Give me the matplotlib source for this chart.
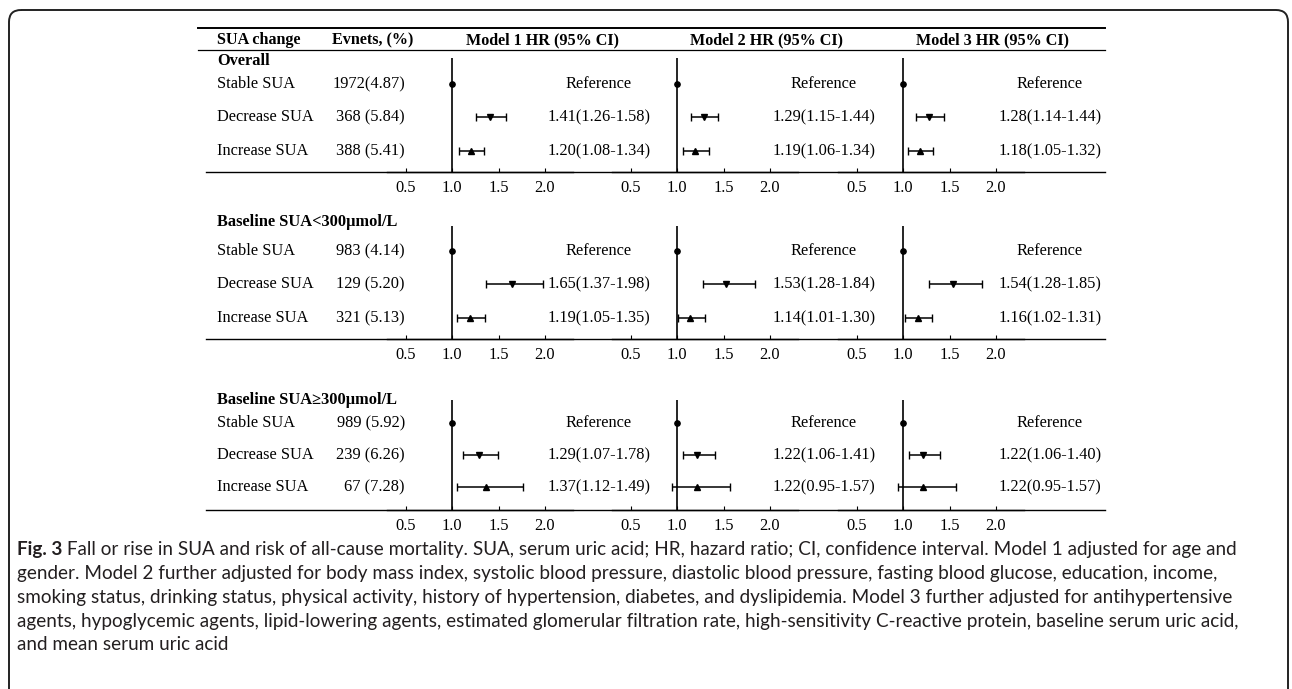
import matplotlib
matplotlib.use('Agg')
import matplotlib.pyplot as plt
from matplotlib.patches import FancyBboxPatch

# Table content
groups = ['Overall', 'Baseline SUA<300\u03bcmol/L', 'Baseline SUA\u2265300\u03bcmol/L']
rows = ['Stable SUA', 'Decrease SUA', 'Increase SUA']
events = [['1972(4.87)', '368 (5.84)', '388 (5.41)'],
          ['983 (4.14)', '129 (5.20)', '321 (5.13)'],
          ['989 (5.92)', '239 (6.26)', '67 (7.28)']]
models = ['Model 1 HR (95% CI)', 'Model 2 HR (95% CI)', 'Model 3 HR (95% CI)']

# printed HR text, [group][model] -> (decrease, increase)
hr_text = [[('1.41(1.26-1.58)', '1.20(1.08-1.34)'), ('1.29(1.15-1.44)', '1.19(1.06-1.34)'), ('1.28(1.14-1.44)', '1.18(1.05-1.32)')],
           [('1.65(1.37-1.98)', '1.19(1.05-1.35)'), ('1.53(1.28-1.84)', '1.14(1.01-1.30)'), ('1.54(1.28-1.85)', '1.16(1.02-1.31)')],
           [('1.29(1.07-1.78)', '1.37(1.12-1.49)'), ('1.22(1.06-1.41)', '1.22(0.95-1.57)'), ('1.22(1.06-1.40)', '1.22(0.95-1.57)')]]

# plotted points: [group][model] -> [decrease, increase]
hr = [[[1.41, 1.20], [1.29, 1.19], [1.28, 1.18]],
      [[1.65, 1.19], [1.53, 1.14], [1.54, 1.16]],
      [[1.29, 1.37], [1.22, 1.22], [1.22, 1.22]]]
lo = [[[1.26, 1.08], [1.15, 1.06], [1.14, 1.05]],
      [[1.37, 1.05], [1.28, 1.01], [1.28, 1.02]],
      [[1.12, 1.05], [1.06, 0.95], [1.06, 0.95]]]
hi = [[[1.58, 1.34], [1.44, 1.34], [1.44, 1.32]],
      [[1.98, 1.35], [1.84, 1.30], [1.85, 1.31]],
      [[1.49, 1.76], [1.41, 1.57], [1.40, 1.57]]]
ref_hr = 1.0
ticks = [0.5, 1.0, 1.5, 2.0]
tick_labels = ['0.5', '1.0', '1.5', '2.0']

caption_bold = 'Fig. 3'
caption = [
    ' Fall or rise in SUA and risk of all-cause mortality. SUA, serum uric acid; HR, hazard ratio; CI, confidence interval. Model 1 adjusted for age and',
    'gender. Model 2 further adjusted for body mass index, systolic blood pressure, diastolic blood pressure, fasting blood glucose, education, income,',
    'smoking status, drinking status, physical activity, history of hypertension, diabetes, and dyslipidemia. Model 3 further adjusted for antihypertensive',
    'agents, hypoglycemic agents, lipid-lowering agents, estimated glomerular filtration rate, high-sensitivity C-reactive protein, baseline serum uric acid,',
    'and mean serum uric acid',
]

# layout in pixels
W, H = 1292, 689
line_x = [452, 677, 903]      # x of HR = 1.0 for each model
px_per_unit = 93
title_y = [61, 222, 400]
row_y = [[84, 117, 151], [251, 284, 318], [423, 455, 487]]
axis_y = [172, 339, 510]
ref_top = [58, 226, 400]
tab_l, tab_r = 198, 1105
serif = 'Liberation Serif'
fs = 11.8
hfs = 11.6

fig = plt.figure(figsize=(W / 100, H / 100), dpi=100)
bg = fig.add_axes([0, 0, 1, 1])
bg.set_xlim(0, W)
bg.set_ylim(H, 0)
bg.axis('off')

# frame around figure + caption
frame = FancyBboxPatch((9, 10), 1279, 720, boxstyle='round,pad=0,rounding_size=12',
                       fc='none', ec='#222222', lw=1.4, clip_on=False)
bg.add_patch(frame)

# header
bg.plot([tab_l, tab_r], [28, 28], color='black', lw=1.4)
bg.plot([tab_l, tab_r], [50, 50], color='black', lw=0.9)
bg.text(217, 40, 'SUA change', fontfamily=serif, fontsize=hfs, fontweight='bold', va='center')
bg.text(332, 40, 'Evnets, (%)', fontfamily=serif, fontsize=hfs, fontweight='bold', va='center')
for m, name in enumerate(models):
    bg.text(line_x[m] + 90, 40, name, fontfamily=serif, fontsize=hfs, fontweight='bold',
            va='center', ha='center')

for g in range(3):
    bg.text(217, title_y[g], groups[g], fontfamily=serif, fontsize=fs,
            fontweight='bold', va='center')
    for r in range(3):
        bg.text(217, row_y[g][r], rows[r], fontfamily=serif, fontsize=fs, va='center')
        bg.text(405, row_y[g][r], events[g][r], fontfamily=serif, fontsize=fs, va='center', ha='right')
    bg.plot([206, tab_r], [axis_y[g], axis_y[g]], color='black', lw=1.0)

    for m in range(3):
        x0 = line_x[m] - 0.7 * px_per_unit
        ax = fig.add_axes([x0 / W, 1 - axis_y[g] / H, 2.0 * px_per_unit / W,
                           (axis_y[g] - ref_top[g]) / H])
        ax.set_xlim(0.3, 2.3)
        ax.set_ylim(axis_y[g], ref_top[g])
        ax.patch.set_visible(False)
        for s in ['top', 'right', 'left']:
            ax.spines[s].set_visible(False)
        ax.spines['bottom'].set_linewidth(1.0)
        ax.axvline(ref_hr, color='black', lw=1.2)
        ax.set_yticks([])
        ax.set_xticks(ticks)
        ax.set_xticklabels(tick_labels, fontfamily=serif, fontsize=fs)
        ax.tick_params(axis='x', direction='in', length=3, width=0.8, pad=6)

        ax.plot(ref_hr, row_y[g][0], 'o', color='black', ms=3.8)
        for k, mk in enumerate(['v', '^']):
            v = hr[g][m][k]
            ax.errorbar(v, row_y[g][k + 1], xerr=[[v - lo[g][m][k]], [hi[g][m][k] - v]],
                        fmt=mk, color='black', ms=3.8, elinewidth=1.1, capsize=3.2, capthick=1.0)

        tx = line_x[m] + 147
        bg.text(tx, row_y[g][0], 'Reference', fontfamily=serif, fontsize=fs, va='center', ha='center')
        for k in range(2):
            bg.text(tx, row_y[g][k + 1], hr_text[g][m][k], fontfamily=serif, fontsize=fs,
                    va='center', ha='center')

# caption, sized so that the first line ends near x = 1238
cap_font = 'Lato'
cap_col = '#231f20'
cap_x, cap_end = 17, 1238
cap_y = [549, 573, 597, 621, 645]
renderer = fig.canvas.get_renderer()
t_bold = bg.text(cap_x, cap_y[0], caption_bold, fontfamily=cap_font, fontsize=10, fontweight='bold',
                 va='center', color=cap_col)
t_rest = bg.text(0, cap_y[0], caption[0], fontfamily=cap_font, fontsize=10, va='center', color=cap_col)
w0 = t_bold.get_window_extent(renderer).width + t_rest.get_window_extent(renderer).width
cap_fs = 10 * (cap_end - cap_x) / w0
t_bold.set_fontsize(cap_fs)
t_rest.set_fontsize(cap_fs)
t_rest.set_x(cap_x + t_bold.get_window_extent(renderer).width)
for i in range(1, 5):
    bg.text(cap_x, cap_y[i], caption[i], fontfamily=cap_font, fontsize=cap_fs, va='center', color=cap_col)

fig.savefig('out.png', dpi=100)
